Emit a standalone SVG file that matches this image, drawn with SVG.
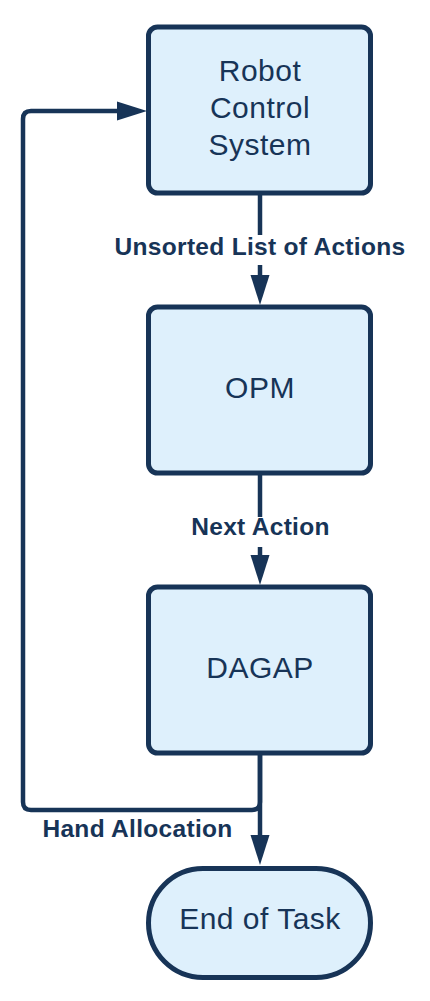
<svg xmlns="http://www.w3.org/2000/svg" width="430" height="1001" viewBox="0 0 430 1001">
  <style>
    .node { fill: #def0fc; stroke: #173457; stroke-width: 5; }
    .ntext { font-family: "Liberation Sans", Arial, sans-serif; font-size: 30px; letter-spacing: 0.5px; fill: #173457; text-anchor: middle; }
    .edge { fill: none; stroke: #173457; stroke-width: 4.5; stroke-linejoin: round; }
    .etext { font-family: "Liberation Sans", Arial, sans-serif; font-size: 24.5px; letter-spacing: 0.3px; font-weight: bold; fill: #173457; text-anchor: middle; }
    .lbg { fill: #ffffff; }
  </style>
  <defs>
    <marker id="arrow" markerUnits="userSpaceOnUse" markerWidth="30" markerHeight="20" refX="0" refY="9.5" orient="auto" viewBox="0 0 30 19">
      <path d="M0,0 L30,9.5 L0,19 z" fill="#173457"/>
    </marker>
  </defs>
  <rect width="430" height="1001" fill="#ffffff"/>

  <g id="connectors">
    <g id="edge-rcs-opm">
      <path class="edge" d="M260,193 L260,275" marker-end="url(#arrow)"/>
      <rect class="lbg" x="112" y="235" width="296" height="30"/>
      <text class="etext" x="260" y="255">Unsorted List of Actions</text>
    </g>
    <g id="edge-opm-dagap">
      <path class="edge" d="M260,473 L260,555" marker-end="url(#arrow)"/>
      <rect class="lbg" x="188" y="517" width="145" height="30"/>
      <text class="etext" x="260.5" y="535">Next Action</text>
    </g>
    <g id="edge-dagap-end">
      <path class="edge" d="M260,753 L260,835" marker-end="url(#arrow)"/>
    </g>
    <g id="edge-dagap-rcs">
      <path class="edge" d="M260,753 L260,802 Q260,810 252,810 L31,810 Q23,810 23,802 L23,119 Q23,111 31,111 L117,111" marker-end="url(#arrow)"/>
      <text class="etext" x="137.5" y="837">Hand Allocation</text>
    </g>
  </g>

  <g id="node-rcs">
    <rect class="node" x="148.5" y="27" width="222" height="166" rx="9"/>
    <text class="ntext" x="260" y="81">Robot</text>
    <text class="ntext" x="260" y="118">Control</text>
    <text class="ntext" x="260" y="155">System</text>
  </g>
  <g id="node-opm">
    <rect class="node" x="148.5" y="307" width="222" height="166" rx="9"/>
    <text class="ntext" x="260" y="398">OPM</text>
  </g>
  <g id="node-dagap">
    <rect class="node" x="148.5" y="587" width="222" height="166" rx="9"/>
    <text class="ntext" x="260" y="678">DAGAP</text>
  </g>
  <g id="node-end">
    <rect class="node" x="148.5" y="868.5" width="222" height="109" rx="54.5"/>
    <text class="ntext" x="260" y="929">End of Task</text>
  </g>
</svg>
